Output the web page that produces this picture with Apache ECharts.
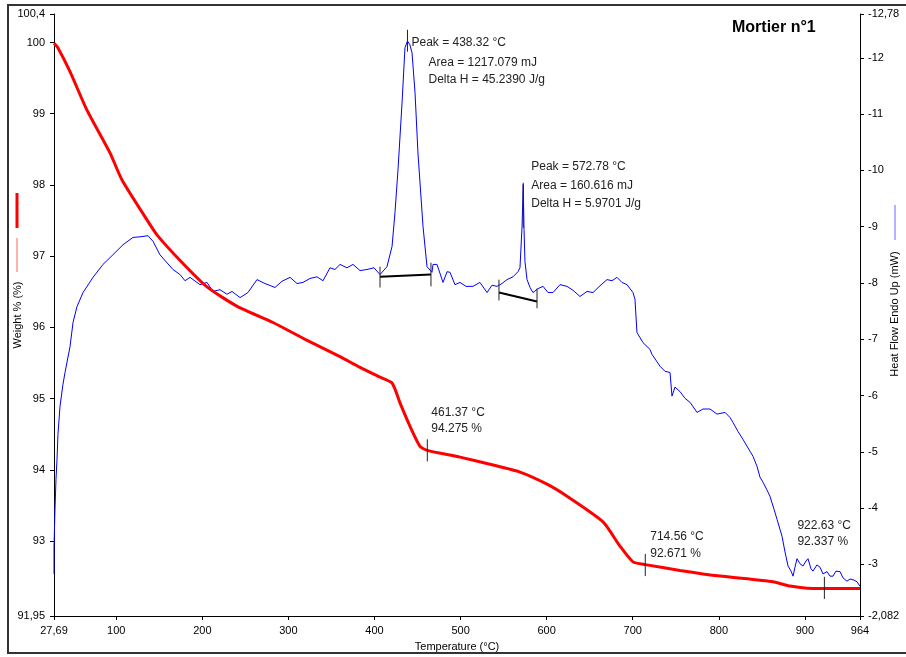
<!DOCTYPE html>
<html>
<head>
<meta charset="utf-8">
<script src="https://cdn.jsdelivr.net/npm/echarts@6/dist/echarts.min.js"></script>
<title>Mortier n°1</title>
<style>
    html, body { margin: 0; padding: 0; background: #fff; }
    #main { width: 906px; height: 657px; }
</style>
</head>
<body>
<div id="main"></div>
<script type="text/javascript">
// TG curve: temperature (°C) / weight (%)
var weightTemp = [27.69, 32, 46.3, 66.0, 92.7, 106.7, 135.7, 147.3, 175, 205.4, 240, 282.1, 320, 359.9, 383.2, 405, 420.4,
    430, 441.3, 452.9, 461.37, 499.3, 537.7, 569.1, 600.4, 623.7, 665.5, 685.2, 700.3, 714.56, 754.9, 801.4, 862.96,
    882.7, 902.5, 922.63, 964];
var weightVals = [99.99, 99.93, 99.59, 99.05, 98.45, 98.07, 97.51, 97.30, 96.93, 96.57, 96.30, 96.07, 95.83, 95.59, 95.44, 95.31, 95.22,
    94.93, 94.61, 94.33, 94.275, 94.18, 94.07, 93.97, 93.80, 93.63, 93.27, 92.93, 92.71, 92.671, 92.59, 92.51, 92.43,
    92.37, 92.34, 92.337, 92.337];

// DSC curve: temperature (°C) / heat flow (mW)
var flowTemp = [27.69, 27.7, 28.85, 30.0, 31.2, 32.3, 34.7, 38.1, 40.5, 46.3, 49.8, 54.4, 61.4, 73.0, 84.6, 92.7, 107.9, 119.5,
    127.6, 136.9, 142.7, 150.8, 165.9, 174.1, 179.9, 185.7, 197.3, 205.4, 212.4, 220.5, 228.7, 234.5, 243.8, 253.0, 263.5,
    272.8, 284.4, 292.5, 301.9, 310.0, 317.0, 325.1, 333.2, 340.2, 348.3, 354.1, 360.0, 368.0, 375.0, 383.2, 391.3, 399.4,
    406.4, 414.5, 420.4, 423.8, 427.3, 432.0, 435.4, 438.32, 441.2, 443.6, 447.1, 450.5, 456.4, 461.0, 466.8, 468.0, 472.6,
    479.6, 484.3, 487.7, 493.5, 499.3, 506.3, 514.4, 522.5, 530.7, 536.5, 542.3, 548.1, 553.9, 560.9, 566.7, 569.0, 571.4,
    572.78, 573.7, 574.8, 577.2, 580.7, 584.1, 590.0, 595.8, 601.6, 607.4, 615.5, 623.6, 630.6, 638.7, 646.9, 653.8, 662.0,
    670.1, 675.9, 681.7, 687.5, 693.3, 700.3, 702.6, 704.9, 711.9, 720.0, 722.4, 731.7, 737.5, 743.3, 745.6, 749.1, 754.9,
    760.7, 766.5, 774.7, 781.6, 789.8, 797.9, 807.2, 813.0, 816.5, 822.3, 828.1, 836.2, 839.7, 844.4, 847.8, 851.3, 856.0,
    859.4, 864.1, 867.6, 873.4, 876.9, 880.4, 883.9, 886.2, 888.5, 890.8, 894.3, 897.8, 901.3, 903.6, 907.1, 909.4, 914.0,
    917.5, 921.0, 925.7, 929.2, 932.6, 936.1, 940.8, 944.3, 948.9, 952.4, 957.1, 960.5, 964.0];
var flowVals = [-2.83, -3.31, -3.98, -4.51, -4.87, -5.31, -5.81, -6.20, -6.41, -6.87, -7.30, -7.58, -7.83, -8.10, -8.33, -8.45, -8.68, -8.81,
    -8.82, -8.84, -8.74, -8.50, -8.24, -8.15, -8.04, -8.10, -7.97, -8.01, -7.85, -7.88, -7.80, -7.85, -7.74, -7.83, -8.06,
    -7.99, -7.92, -8.03, -8.10, -7.99, -8.01, -8.08, -8.11, -8.04, -8.27, -8.24, -8.33, -8.27, -8.33, -8.22, -8.24, -8.27,
    -8.15, -8.29, -8.65, -9.25, -10.01, -11.20, -12.18, -12.30, -12.23, -12.09, -11.38, -10.31, -9.00, -8.29, -8.19, -8.33, -8.33,
    -8.01, -8.20, -8.19, -7.97, -8.01, -7.94, -7.94, -8.01, -7.83, -7.96, -7.94, -7.99, -8.06, -8.11, -8.20, -8.27, -9.00,
    -9.75, -8.95, -8.38, -8.06, -7.92, -7.83, -7.90, -7.94, -7.83, -7.83, -7.97, -7.94, -7.87, -7.76, -7.85, -7.83, -7.95,
    -8.06, -8.04, -8.10, -8.01, -7.97, -7.83, -7.71, -7.12, -6.94, -6.82, -6.73, -6.52, -6.43, -6.41, -5.99, -6.15, -6.07,
    -5.95, -5.88, -5.70, -5.76, -5.76, -5.67, -5.70, -5.61, -5.52, -5.36, -5.22, -5.01, -4.92, -4.74, -4.55, -4.46, -4.32,
    -4.21, -3.98, -3.80, -3.50, -3.22, -2.97, -2.88, -2.79, -2.95, -3.10, -3.01, -2.97, -3.06, -3.10, -2.92, -2.88, -2.99,
    -2.95, -2.83, -2.87, -2.79, -2.79, -2.88, -2.87, -2.76, -2.70, -2.74, -2.72, -2.69, -2.61];

// tick labels
var tempTicks = [27.69, 100, 200, 300, 400, 500, 600, 700, 800, 900, 964];
var weightTicks = [91.95, 93, 94, 95, 96, 97, 98, 99, 100, 100.4];
var flowTicks = [-12.78, -12, -11, -10, -9, -8, -7, -6, -5, -4, -3, -2.082];

// peak baselines and small marker lines (temp, from, to)
var flowBaselines = [[[406.4, -8.11], [465.6, -8.15]], [[544.6, -7.83], [588.8, -7.67]]];
var flowMarkers = [[406.4, -8.29, -7.92], [465.6, -8.36, -7.94], [544.6, -8.06, -7.69], [588.8, -7.90, -7.55],
    [438.32, -12.50, -12.11], [572.78, -9.78, -8.98]];
var weightMarkers = [[461.37, 94.43, 94.12], [714.56, 92.82, 92.51], [922.63, 92.50, 92.19]];

// annotation texts: anchor value, axis, lines [text, dx, dy]
var notes = [
    { at: [438.32, -12.30], axis: 1, lines: [['Peak = 438.32 °C', 4, 2], ['Area = 1217.079 mJ', 21, 22], ['Delta H = 45.2390 J/g', 21, 39]] },
    { at: [572.78, -9.75], axis: 1, lines: [['Peak = 572.78 °C', 8, -18], ['Area = 160.616 mJ', 8, 1], ['Delta H = 5.9701 J/g', 8, 19]] },
    { at: [461.37, 94.275], axis: 0, lines: [['461.37 °C', 4, -38], ['94.275 %', 4, -22]] },
    { at: [714.56, 92.671], axis: 0, lines: [['714.56 °C', 5, -28], ['92.671 %', 5, -11]] },
    { at: [922.63, 92.337], axis: 0, lines: [['922.63 °C', -27, -63], ['92.337 %', -27, -47]] }
];

var FONT = 'Arial, "Liberation Sans", sans-serif';
function comma(v) { return String(v).replace('.', ','); }
function zip(a, b) { return a.map(function (x, i) { return [x, b[i]]; }); }

var axisLine = { show: true, lineStyle: { color: '#000', width: 1 } };
var labelStyle = { color: '#000', fontSize: 11, fontFamily: FONT, formatter: comma };

var series = [
    {
        type: 'line', name: 'Heat Flow', yAxisIndex: 1, data: zip(flowTemp, flowVals),
        showSymbol: false, lineStyle: { color: '#0000ff', width: 1 }, z: 2
    },
    {
        type: 'line', name: 'Weight', yAxisIndex: 0, data: zip(weightTemp, weightVals),
        showSymbol: false, smooth: 0.2,
        lineStyle: { color: '#ff0000', width: 3 }, z: 3
    }
];
flowBaselines.forEach(function (seg) {
    series.push({ type: 'line', yAxisIndex: 1, data: seg, showSymbol: false, lineStyle: { color: '#000', width: 2 }, z: 4 });
});
flowMarkers.forEach(function (m) {
    series.push({ type: 'line', yAxisIndex: 1, data: [[m[0], m[1]], [m[0], m[2]]], showSymbol: false, lineStyle: { color: '#222', width: 1 }, z: 4 });
});
weightMarkers.forEach(function (m) {
    series.push({ type: 'line', yAxisIndex: 0, data: [[m[0], m[1]], [m[0], m[2]]], showSymbol: false, lineStyle: { color: '#222', width: 1 }, z: 4 });
});

var myChart = echarts.init(document.getElementById('main'));
var option = {
    animation: false,
    backgroundColor: '#fff',
    title: {
        text: 'Mortier n°1', left: 732, top: 20, padding: 0,
        textStyle: { fontSize: 16, fontWeight: 'bold', color: '#000', fontFamily: FONT }
    },
    grid: { left: 54, right: 46, top: 14, bottom: 40 },
    xAxis: {
        type: 'value', min: 27.69, max: 964,
        axisLine: axisLine,
        axisTick: { show: true, length: 4, customValues: tempTicks, lineStyle: { color: '#000' } },
        axisLabel: Object.assign({ customValues: tempTicks, margin: 9 }, labelStyle),
        splitLine: { show: false },
        name: 'Temperature (°C)', nameLocation: 'middle', nameGap: 25,
        nameTextStyle: { color: '#000', fontSize: 11, fontFamily: FONT }
    },
    yAxis: [
        {
            type: 'value', position: 'left', min: 91.95, max: 100.4,
            axisLine: axisLine,
            axisTick: { show: true, length: 4, customValues: weightTicks, lineStyle: { color: '#000' } },
            axisLabel: Object.assign({ customValues: weightTicks, margin: 9 }, labelStyle),
            splitLine: { show: false }
        },
        {
            type: 'value', position: 'right', min: -12.78, max: -2.082, inverse: true,
            axisLine: axisLine,
            axisTick: { show: true, length: 4, customValues: flowTicks, lineStyle: { color: '#000' } },
            axisLabel: Object.assign({ customValues: flowTicks, margin: 8 }, labelStyle),
            splitLine: { show: false }
        }
    ],
    series: series
};
myChart.setOption(option);

// frame, axis names with their line samples, and annotation texts
var graphics = [
    { type: 'polyline', shape: { points: [[906, 5], [8, 5], [8, 653], [906, 653]] }, style: { stroke: '#333', lineWidth: 2, fill: null } },
    { type: 'line', shape: { x1: 17, y1: 193, x2: 17, y2: 228 }, style: { stroke: '#ff0000', lineWidth: 3 } },
    { type: 'line', shape: { x1: 17, y1: 238, x2: 17, y2: 272 }, style: { stroke: '#ff6060', lineWidth: 1 } },
    { type: 'text', x: 18, y: 315, rotation: Math.PI / 2, style: { text: 'Weight % (%)', align: 'center', verticalAlign: 'middle', fontSize: 11, fontFamily: FONT, fill: '#000' } },
    { type: 'line', shape: { x1: 895, y1: 205, x2: 895, y2: 240 }, style: { stroke: '#6666ff', lineWidth: 1 } },
    { type: 'text', x: 895, y: 314, rotation: Math.PI / 2, style: { text: 'Heat Flow Endo Up (mW)', align: 'center', verticalAlign: 'middle', fontSize: 11, fontFamily: FONT, fill: '#000' } }
];
notes.forEach(function (n) {
    var p = myChart.convertToPixel({ xAxisIndex: 0, yAxisIndex: n.axis }, n.at);
    n.lines.forEach(function (l) {
        graphics.push({
            type: 'text', x: p[0] + l[1], y: p[1] + l[2],
            style: { text: l[0], align: 'left', verticalAlign: 'middle', fontSize: 12, fontFamily: FONT, fill: '#222' }
        });
    });
});
myChart.setOption({ graphic: graphics });
</script>
</body>
</html>
